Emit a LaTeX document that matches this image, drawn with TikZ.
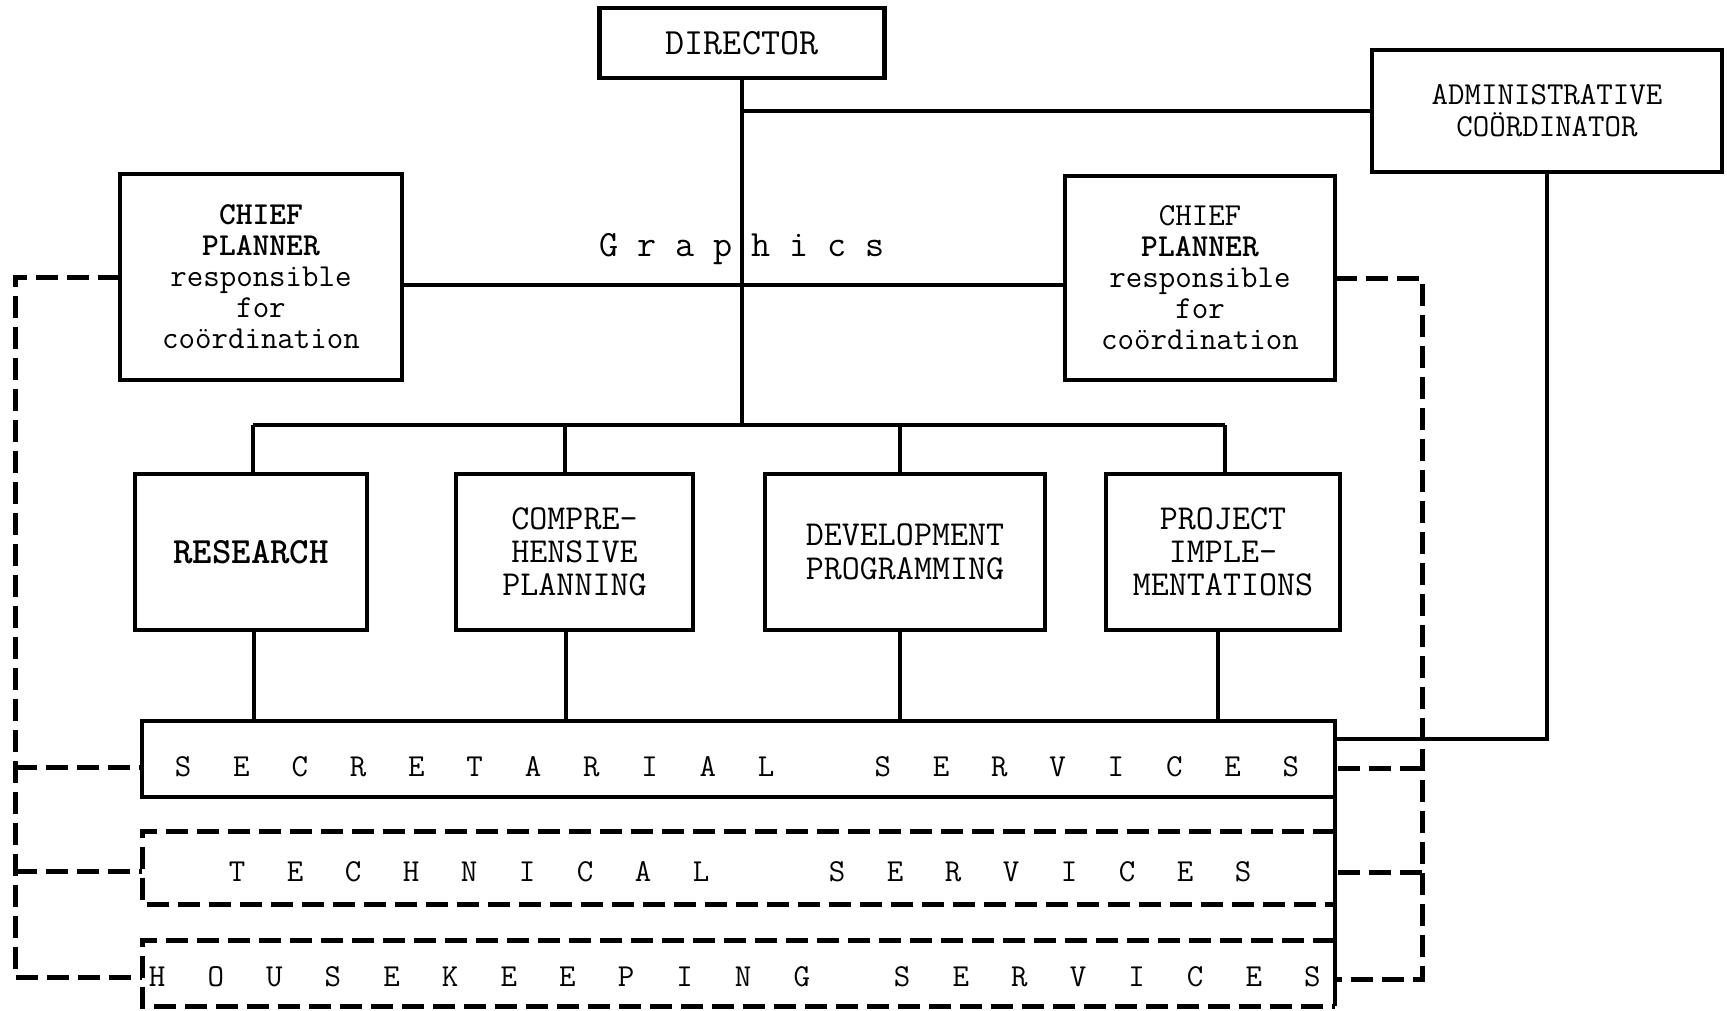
\documentclass[tikz,border=0pt]{standalone}
\usetikzlibrary{calc}
\newlength\rstep
\newcommand\rl[1]{\makebox[\rstep]{#1}}
\begin{document}
\begin{tikzpicture}[x=1pt,y=-1pt,
  box/.style={draw,line width=4.5pt,inner sep=0pt,outer sep=0pt,align=center,
    font=\ttfamily\fontsize{35}{33}\selectfont},
  conn/.style={line width=4pt},
  dsh/.style={line width=5pt,dash pattern=on 22pt off 9pt},
  rowbox/.style={inner sep=0pt,outer sep=0pt,minimum width=1193pt},
  rowtxt/.style={inner sep=0pt,anchor=west,font=\ttfamily\fontsize{32}{32}\selectfont}
]
\useasboundingbox (0,0) rectangle (1727,1011);

% top boxes
\node[box,minimum width=285pt,minimum height=70pt,font=\ttfamily\fontsize{37}{37}\selectfont]
      (dir) at (742,43) {DIRECTOR};
\node[box,minimum width=350pt,minimum height=122pt,
      font=\ttfamily\fontsize{32}{32}\selectfont] (adm) at (1547,111)
      {ADMINISTRATIVE\\COÖRDINATOR};
\node[box,minimum width=282pt,minimum height=206pt,
      font=\ttfamily\fontsize{32}{31}\selectfont] (chl) at (261,277)
      {{\bfseries CHIEF}\\{\bfseries PLANNER}\\responsible\\for\\coördination};
\node[box,minimum width=270pt,minimum height=204pt,
      font=\ttfamily\fontsize{32}{31}\selectfont] (chr) at (1200,278)
      {CHIEF\\{\bfseries PLANNER}\\responsible\\for\\coördination};
\node[font=\ttfamily\fontsize{37}{37}\selectfont,inner sep=0pt,anchor=base]
      (gfx) at (742,257) {G r a p h i c s};

% middle boxes
\node[box,minimum width=232pt,minimum height=156pt,font=\ttfamily\fontsize{37}{37}\selectfont]
      (res) at (251,552) {\bfseries RESEARCH};
\node[box,minimum width=237pt,minimum height=156pt] (cmp) at (574.5,552) {COMPRE-\\HENSIVE\\PLANNING};
\node[box,minimum width=280pt,minimum height=156pt,
      font=\ttfamily\fontsize{35}{34}\selectfont] (dev) at (905,552) {DEVELOPMENT\\PROGRAMMING};
\node[box,minimum width=234pt,minimum height=156pt] (prj) at (1223,552) {PROJECT\\IMPLE-\\MENTATIONS};

% service rows
\node[rowbox,draw,line width=4.5pt,minimum height=76pt] (sec) at (738.5,759) {};
\node[rowbox,minimum height=73pt] (tech) at (738.5,867.5) {};
\node[rowbox,minimum height=66pt] (house) at (738.5,973) {};
\draw[dsh] (tech.north east) -- (tech.north west) -- (tech.south west) -- (tech.south east);
\draw[dsh] (house.north east) -- (house.north west) -- (house.south west) -- (house.south east);
\draw[line width=4.5pt] (sec.north east) -- (house.south east);

\node[rowtxt] (secT) at (153.85,767) {\setlength\rstep{58.3pt}%
  \rl{S}\rl{E}\rl{C}\rl{R}\rl{E}\rl{T}\rl{A}\rl{R}\rl{I}\rl{A}\rl{L}\rl{}%
  \rl{S}\rl{E}\rl{R}\rl{V}\rl{I}\rl{C}\rl{E}\rl{S}};
\node[rowtxt] (techT) at (208,872) {\setlength\rstep{58pt}%
  \rl{T}\rl{E}\rl{C}\rl{H}\rl{N}\rl{I}\rl{C}\rl{A}\rl{L}\hspace*{78pt}%
  \rl{S}\rl{E}\rl{R}\rl{V}\rl{I}\rl{C}\rl{E}\rl{S}};
\node[rowtxt] (houseT) at (127.7,977) {\setlength\rstep{58.6pt}%
  \rl{H}\rl{O}\rl{U}\rl{S}\rl{E}\rl{K}\rl{E}\rl{E}\rl{P}\rl{I}\rl{N}\rl{G}\hspace*{41.8pt}%
  \rl{S}\rl{E}\rl{R}\rl{V}\rl{I}\rl{C}\rl{E}\rl{S}};

% coordinates for connectors
\coordinate (bj) at (742,425);
\coordinate (b1) at (253,425);
\coordinate (b2) at (565,425);
\coordinate (b3) at (900,425);
\coordinate (b4) at (1225,425);
\coordinate (s1) at (254,721);
\coordinate (s2) at (566,721);
\coordinate (s3) at (900,721);
\coordinate (s4) at (1218,721);
\coordinate (gl) at (742,285);
\coordinate (sj) at (1335,739);
\coordinate (lb) at (15,977);
\coordinate (ls) at (15,767);
\coordinate (lt) at (15,871);
\coordinate (rb) at (1422,979);
\coordinate (rs) at (1422,768);
\coordinate (rt) at (1422,872);

% solid connectors
\draw[conn] (dir.south) -- (bj);
\draw[conn] (dir.south |- adm.west) -- (adm.west);
\draw[conn] (chl.east |- gl) -- (chr.west |- gl);
\draw[conn] (b1) -- (b4);
\draw[conn] (b1) -- (res.north -| b1);
\draw[conn] (b2) -- (cmp.north -| b2);
\draw[conn] (b3) -- (dev.north -| b3);
\draw[conn] (b4) -- (prj.north -| b4);
\draw[conn] (s1 |- res.south) -- (s1);
\draw[conn] (s2 |- cmp.south) -- (s2);
\draw[conn] (s3 |- dev.south) -- (s3);
\draw[conn] (s4 |- prj.south) -- (s4);
\draw[conn] (adm.south) |- (sj);

% dashed connectors
\draw[dsh] (chl.west) -| (lb) -- (house.west |- lb);
\draw[dsh] (ls) -- (sec.west |- ls);
\draw[dsh] (lt) -- (tech.west |- lt);
\draw[dsh] (chr.east) -| (rb) -- (house.east |- rb);
\draw[dsh] (rs) -- (sec.east |- rs);
\draw[dsh] (rt) -- (tech.east |- rt);
\end{tikzpicture}
\end{document}
